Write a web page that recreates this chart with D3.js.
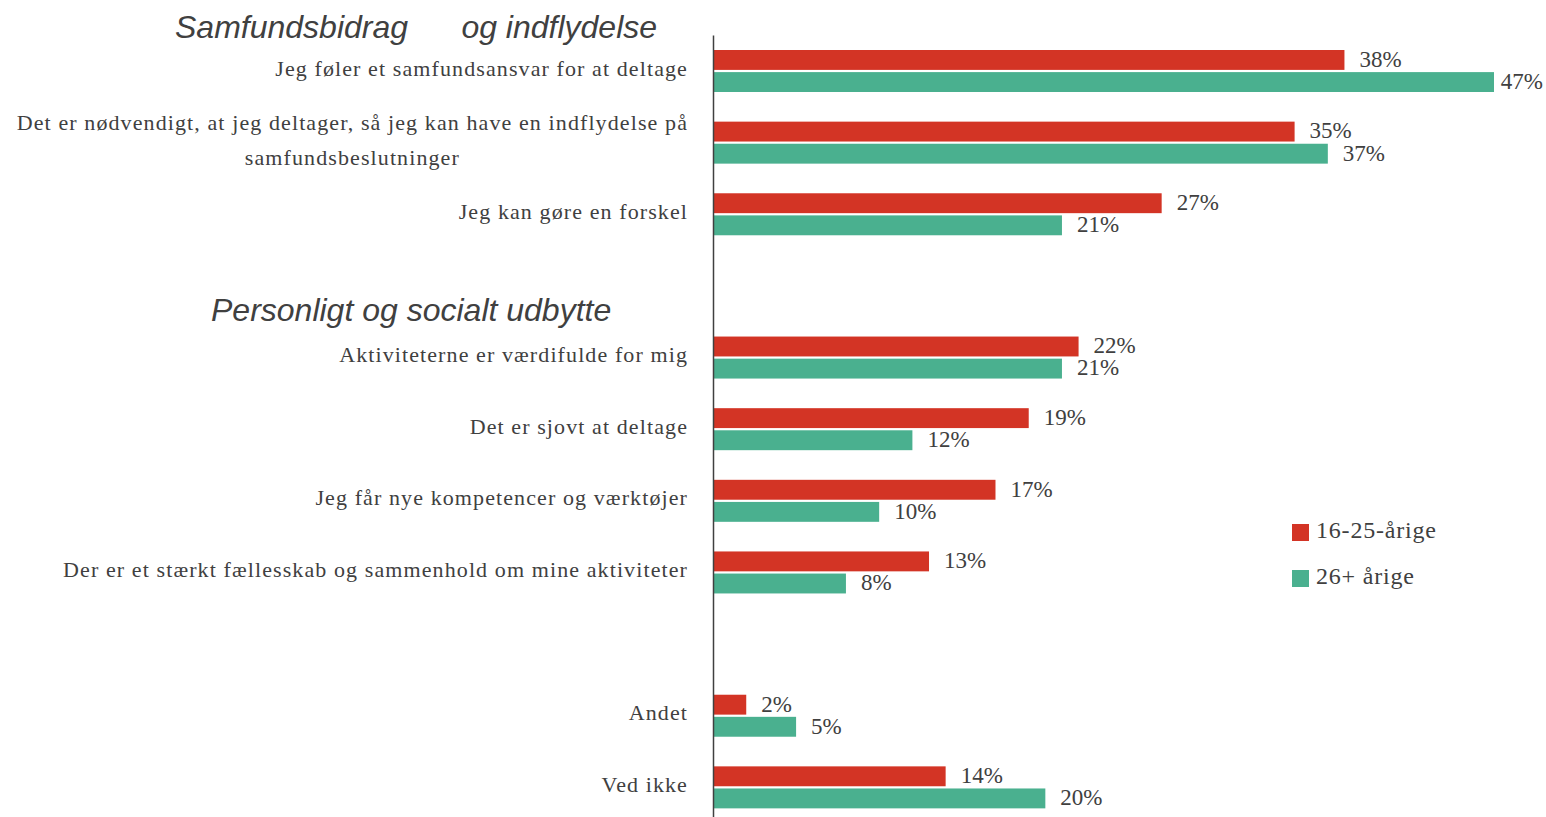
<!DOCTYPE html>
<html lang="da">
<head>
<meta charset="utf-8">
<title>Motivation</title>
<style>
  body { margin: 0; background: #fff; }
  text { fill: #404040; }
  .lbl { font-family: "Liberation Serif", serif; font-size: 22px; letter-spacing: 1.1px; }
  .val { font-family: "Liberation Serif", serif; font-size: 23px; }
  .head { font-family: "Liberation Sans", Arial, sans-serif; font-size: 32px; font-style: italic; }
</style>
</head>
<body>
<script src="https://cdn.jsdelivr.net/npm/d3@7"></script>
<script>
var width = 1546, height = 817;

// data
var categories = [
  "Jeg føler et samfundsansvar for at deltage",
  "Det er nødvendigt, at jeg deltager, så jeg kan have en indflydelse på samfundsbeslutninger",
  "Jeg kan gøre en forskel",
  "Aktiviteterne er værdifulde for mig",
  "Det er sjovt at deltage",
  "Jeg får nye kompetencer og værktøjer",
  "Der er et stærkt fællesskab og sammenhold om mine aktiviteter",
  "Andet",
  "Ved ikke"
];
var series = ["16-25-årige", "26+ årige"];
var young = [38, 35, 27, 22, 19, 17, 13, 2, 14];
var older = [47, 37, 21, 21, 12, 10, 8, 5, 20];
var headings = ["Samfundsbidrag      og indflydelse", "Personligt og socialt udbytte"];
var colors = ["#d33425", "#4ab08f"];

// slot order with blank rows between the groups
var slots = categories.slice(0, 3).concat(["_gap1"], categories.slice(3, 7), ["_gap2"], categories.slice(7));

var svg = d3.select("body").append("svg")
  .attr("width", width)
  .attr("height", height);

var x = d3.scaleLinear().domain([0, 47]).range([713, 1494]);
var y = d3.scaleBand().domain(slots).range([35, 823]);
var y1 = d3.scaleBand().domain(series).range([15, 57]).paddingInner(0.1);

var rows = categories.map(function (c, i) { return { cat: c, vals: [young[i], older[i]] }; });

// bars
var g = svg.append("g");
var rowG = g.selectAll("g.row").data(rows).enter().append("g")
  .attr("class", "row")
  .attr("transform", function (d) { return "translate(0," + y(d.cat) + ")"; });

rowG.selectAll("rect").data(function (d) {
    return d.vals.map(function (v, j) { return { s: series[j], v: v, j: j }; });
  }).enter().append("rect")
  .attr("x", x(0))
  .attr("y", function (d) { return y1(d.s); })
  .attr("width", function (d) { return x(d.v) - x(0); })
  .attr("height", y1.bandwidth())
  .attr("fill", function (d) { return colors[d.j]; });

rowG.selectAll("text.val").data(function (d) {
    return d.vals.map(function (v, j) { return { s: series[j], v: v }; });
  }).enter().append("text")
  .attr("class", "val")
  .attr("y", function (d) { return y1(d.s) + y1.bandwidth() / 2; })
  .attr("dy", "0.3em")
  .text(function (d) { return d.v + "%"; })
  .attr("x", function (d) {
    // keep the label inside the page, like the original does for 47%
    var w = this.getComputedTextLength();
    return Math.min(x(d.v) + 15, width - w - 3);
  });

// category labels, wrapped and right aligned
var labelRight = 688, maxW = 690, lineH = 35;
rowG.each(function (d) {
  var sel = d3.select(this);
  var words = d.cat.split(" "), lines = [], cur = [];
  var probe = sel.append("text").attr("class", "lbl");
  words.forEach(function (w) {
    cur.push(w);
    probe.text(cur.join(" "));
    if (probe.node().getComputedTextLength() > maxW && cur.length > 1) {
      cur.pop();
      lines.push(cur.join(" "));
      cur = [w];
    }
  });
  lines.push(cur.join(" "));
  probe.text(lines[0]);
  var w0 = probe.node().getComputedTextLength();
  probe.remove();
  var mid = y.bandwidth() / 2;
  var t = sel.append("text").attr("class", "lbl");
  lines.forEach(function (l, k) {
    t.append("tspan")
      .attr("x", lines.length > 1 ? labelRight - w0 / 2 : labelRight)
      .attr("text-anchor", lines.length > 1 ? "middle" : "end")
      .attr("y", mid - 3 + (k - (lines.length - 1) / 2) * lineH)
      .attr("dy", "0.35em")
      .text(l);
  });
});

// headings
svg.append("text").attr("class", "head")
  .attr("x", 175).attr("y", y(categories[0]) + 3)
  .style("white-space", "pre")
  .text(headings[0]);
svg.append("text").attr("class", "head")
  .attr("x", 211).attr("y", y(categories[3]) - 1)
  .text(headings[1]);

// vertical axis line
svg.append("g")
  .attr("transform", "translate(" + x(0) + ",0)")
  .call(d3.axisLeft(y).tickSize(0).tickFormat(""))
  .call(function (a) { a.select(".domain").attr("stroke", "#404040").attr("stroke-width", 1.5); });

// legend
var leg = svg.append("g").attr("transform", "translate(1292,524)");
var li = leg.selectAll("g").data(series).enter().append("g")
  .attr("transform", function (d, i) { return "translate(0," + i * 46 + ")"; });
li.append("rect").attr("width", 17).attr("height", 17)
  .attr("fill", function (d, i) { return colors[i]; });
li.append("text").attr("class", "val")
  .attr("x", 24).attr("y", 6).attr("dy", "0.35em")
  .style("font-size", "24px").style("letter-spacing", "0.8px")
  .text(function (d) { return d; });
</script>
</body>
</html>
